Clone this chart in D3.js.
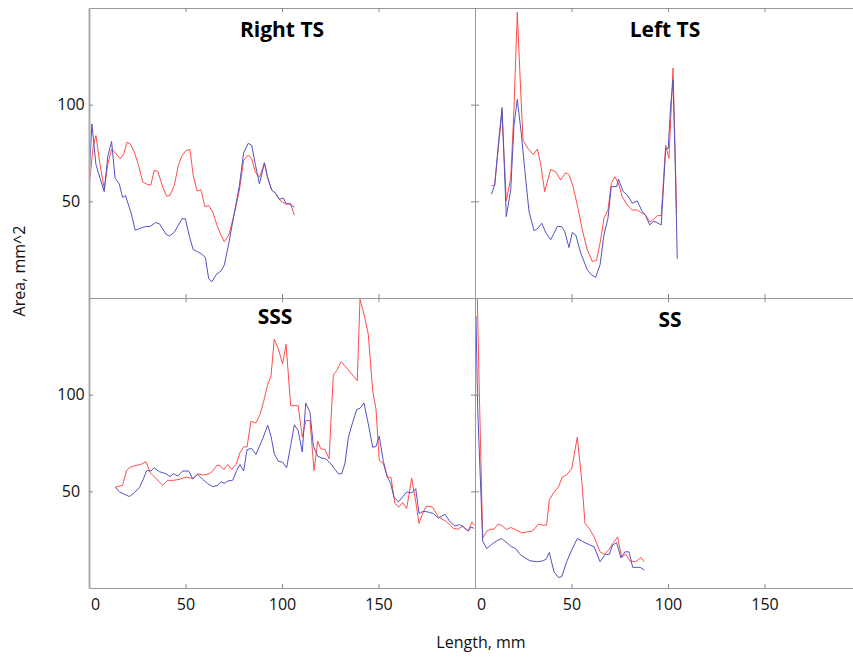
<!DOCTYPE html>
<html>
<head>
<meta charset="utf-8">
<script src="https://cdn.jsdelivr.net/npm/d3@7"></script>
<style>
  body { margin: 0; background: #fff; }
  svg { display: block; font-family: "Open Sans", sans-serif; }
</style>
</head>
<body>
<div id="chart"></div>
<script>
// panel titles
const titles = ["Right TS", "Left TS", "SSS", "SS"];
const xTicks = [0, 50, 100, 150];
const yTicks = [50, 100];

// [length mm, area mm^2]
const rightTsRed = [[0,57],[2.1,78],[3.6,84],[5.7,69],[7.9,56.5],[9.7,69],[11.7,77],[14,74.6],[16.2,72],[18,74.6],[19.7,80.6],[21.4,79.7],[23.5,75.4],[25.7,68.6],[27.8,60],[30.4,58.6],[32.1,58.6],[33.8,66],[35.6,65.6],[38.2,57.4],[40.2,52.7],[41.9,53],[44.2,58.2],[46.3,68.6],[48.2,73.7],[50.3,76.3],[52.3,76.8],[54,63.4],[56,55.3],[58,56],[60.1,47.1],[62,47.9],[64.1,44.5],[66.3,37.6],[68.4,32.5],[70.1,29],[72.4,32.5],[75.3,43.6],[77.9,55.7],[80.1,71.1],[82.5,74],[84.3,72],[86.2,65.1],[88.3,62.5],[90.9,69.7],[92.5,62.5],[94.6,56],[96.9,53.7],[99,50.5],[102,48.5],[104.3,49],[106.4,42.8]];
const rightTsBlue = [[0,62],[1.5,90],[3.6,69],[5.7,62],[7.9,55],[9.7,73],[11.7,81],[13.5,62],[15.7,59],[17.4,52],[18.9,53],[21.8,44],[24,35],[26.4,36],[29.2,37],[31.6,37],[34.4,39],[36.4,38.5],[39.9,33],[41.6,32],[44.2,34],[48.2,41],[49.9,41],[52,32],[54,25],[56.1,24],[58,23],[60.3,21],[62,10],[63.7,8.4],[65.8,12],[68.4,14],[70.1,17],[72.4,28],[75.3,44],[77.9,58],[80.1,75],[82.5,80],[84.3,79],[86.2,69],[88.3,59],[90.9,70],[92.5,62.5],[94.6,56],[96.9,54],[98.6,51],[100.7,51.7],[102,49],[104.1,48.5],[106.4,47]];

const leftTsRed = [[8.5,58],[10.2,58.4],[12.4,80.8],[14,96.2],[16.2,50.2],[18.5,61.9],[20.2,97.9],[21.9,147.8],[23.7,106.5],[24.9,81.6],[27.5,77.3],[30.2,74.2],[32.3,77],[34,69.6],[36.1,55],[39.2,66.5],[41.8,65.3],[44.4,61],[47,64.8],[48.7,63.9],[50.8,57.6],[53.4,46.4],[55.6,35.2],[58.2,24.9],[60.8,18.9],[62.9,19.4],[64.8,28.4],[66.8,41.2],[68.9,45.5],[70.6,59.3],[72.5,62.7],[74.3,59.3],[76.3,52.4],[78.9,48.1],[81.5,45.5],[84.1,45.5],[85.9,44.3],[88.4,42.9],[90.7,39.2],[92.7,40.9],[94.5,42.6],[96.5,42.6],[98.8,79],[100.5,72.2],[102.6,118.9],[103.5,82.5],[104.5,43.8]];
const leftTsBlue = [[8.5,53.6],[10.2,58.4],[12.4,82.5],[14,98.5],[16.2,42.1],[18.5,55.8],[20.2,89.3],[21.9,102.7],[24,85],[25.7,67],[28,44.7],[30.6,34.7],[32.6,36.1],[34.6,38.7],[36.6,34],[39.2,30.1],[42.7,37],[44.8,37],[46.5,34.4],[48.7,26.1],[50.4,33.9],[52.2,32.6],[54.8,23.2],[58.2,14.6],[60.3,12],[62.5,10.7],[64.8,17.2],[66.8,32.6],[68.9,41.2],[70.6,57.6],[73.4,57.6],[74.3,61.5],[76.8,55],[78.9,53.3],[81.5,49],[84.1,50.2],[86.4,45.2],[88.4,42.6],[90.5,37.8],[92.7,39.8],[96.5,37.8],[98.8,77.3],[100.1,77.3],[101.4,99.6],[102.6,112.9],[103.6,75.6],[104.8,20.3]];

const sssRed = [[13.6,52.2],[17.4,53.1],[19.5,60.8],[21.8,62.7],[24.4,63.4],[26.9,63.9],[29.5,65.3],[31.8,59.6],[34.7,56.7],[38.2,53.1],[40.8,55.7],[43.7,55.7],[46.8,56.2],[50.3,57.4],[54,56.5],[56.3,59.1],[59.2,58.4],[62.3,59.1],[64.1,60.5],[66.2,63.4],[67.9,63.4],[69.8,61.3],[71.9,63.9],[73.9,61.3],[76.2,63.9],[78.2,69.9],[80.1,73],[81.9,73],[83.9,86.2],[86.5,85.4],[88.6,89.7],[90.5,96.5],[92.6,105.2],[94.3,109.5],[96,128.7],[98.1,123.6],[100.3,115.8],[102.1,126.1],[104.5,94.3],[108.4,94.3],[110.5,78],[112.4,86.6],[114.5,86.6],[116.6,60.8],[118.5,75.9],[120.1,72],[122.3,71.6],[124.4,66.8],[126.6,110.2],[128.3,112.4],[130.6,117],[132.6,114.9],[139,107.2],[140.4,149.3],[142.5,141.6],[144.7,131.3],[147,102.1],[148.7,92.6],[150.4,66],[152.5,64.3],[154.6,57.4],[156.5,57.1],[158.5,43.7],[160.6,41.9],[162.5,44.2],[164.6,41.1],[167.2,56.9],[169.3,44.5],[171,33.4],[173.2,39.3],[175,42.4],[177.9,41.9],[181,36.8],[185.3,34.2],[188.8,30.8],[191.3,30.4],[193.6,32.1],[196.5,29.5],[198.4,34.2],[199.5,32.5]];
const sssBlue = [[13.6,52.2],[15.7,49.7],[18.3,48.5],[20.9,47.3],[23.5,49.3],[26.1,51.9],[28.1,56.2],[29.9,60.8],[32.1,60.5],[33.8,62.2],[36.4,60.2],[39.9,59.1],[42,57.6],[43.7,59.1],[46,57.9],[48.5,60.5],[51.7,60.5],[53.7,56.5],[56.3,58.8],[58.9,56.2],[61.5,54],[64.1,52.4],[66.7,53.1],[68.4,55],[70.1,54.1],[71.9,55.3],[74.5,55.8],[76.5,60.8],[78.2,63.9],[80.1,60.5],[81.9,71.6],[84.3,72.2],[86.5,69.1],[90,77.2],[92.6,84.2],[94.3,78.5],[96,69.4],[98.1,65.6],[100.3,65.1],[102.4,62.2],[104.5,73.7],[106.4,84.4],[108.4,81.4],[110.5,70.3],[112.3,95.7],[114.5,90.9],[116.2,73.7],[118.5,68.2],[120.6,67.2],[122.6,66.8],[124.9,64.8],[127.5,61.3],[129.2,59.1],[130.9,59.1],[132.6,64.3],[134.4,78],[136.6,85.7],[138.7,92.3],[140.4,92.9],[142.5,95.7],[144.7,84.9],[147,72.8],[148.7,73.2],[150.4,78.5],[152.5,65.6],[154.6,57.4],[156.3,54],[158,47.1],[160.3,44.5],[162.5,47.1],[164.6,49.7],[167.2,49.1],[169.3,51.4],[171,38.5],[173.2,39.7],[175.8,39.3],[178.4,38.5],[181,36.2],[184.5,38.1],[187,34.2],[189.6,32.1],[191.9,32.8],[193.9,31.6],[196.5,29.4],[197.9,31.6],[199.5,30.8]];

const ssRed = [[1.2,150],[2.2,103],[4,25.9],[6.1,29.4],[8.1,30.4],[9.8,30.4],[12.1,33.1],[14.1,32.1],[16.4,30.2],[18.5,31.3],[20.7,30.4],[24.2,28.5],[26.8,29],[29.4,29.4],[31.1,30.8],[32.8,33.1],[35.1,32.5],[37.1,32.5],[38.5,45.4],[40.6,49.1],[43.2,52.2],[45.2,57.4],[47.5,58.6],[50.1,61.7],[53,78],[55.3,55.7],[57,33.4],[59.2,30.8],[61.7,26.5],[64.8,18.7],[67,17.5],[69.6,20.1],[71.7,23.5],[73.9,26.4],[76,15.8],[78.1,17.5],[80.3,13.9],[83.3,13.6],[86,15.8],[87.6,13.6]];
const ssBlue = [[0.5,140.7],[1.4,92.6],[4,24.2],[6.1,20.4],[8.6,22.5],[11.2,24.4],[13.8,25.6],[16.4,23.5],[19,21.3],[21.1,20.4],[23.3,17.4],[25.9,15.6],[28.5,14.1],[32,13.6],[34.6,13.9],[36.8,14.8],[38.5,18.4],[40.9,8.4],[43.2,5.5],[44.9,5.8],[47.5,13.6],[50.1,19.6],[53,25.6],[57,23.4],[61.7,21.3],[64.8,13.6],[67.4,17.4],[69.6,17.4],[71.3,22.2],[73.4,23.5],[75.6,15.6],[77.7,18.7],[79.8,18.7],[81.7,10.7],[85.5,10.7],[87.7,9.3]];

const seriesRed = [rightTsRed, leftTsRed, sssRed, ssRed];
const seriesBlue = [rightTsBlue, leftTsBlue, sssBlue, ssBlue];

const W = 853, H = 657;
const pw = 386, ph = 290;
const panels = [
  { left: 89, top: 8, col: 0, row: 0, tdx: 0, tdy: 29 },
  { left: 475, top: 8, col: 1, row: 0, tdx: -3, tdy: 29 },
  { left: 89, top: 298, col: 0, row: 1, tdx: -7, tdy: 26 },
  { left: 475, top: 298, col: 1, row: 1, tdx: 2, tdy: 29 },
];

const svg = d3.select("#chart").append("svg")
  .attr("width", W).attr("height", H);

const x = d3.scaleLinear().domain([0, 200]).range([0, pw]);
const y = d3.scaleLinear().domain([0, 150]).range([ph, 0]);
const line = d3.line().x(d => x(d[0])).y(d => y(d[1]));

const defs = svg.append("defs");
defs.append("clipPath").attr("id", "clip")
  .append("rect").attr("width", pw).attr("height", ph);

panels.forEach((p, i) => {
  const g = svg.append("g").attr("transform", `translate(${p.left},${p.top})`);

  // data
  const plot = g.append("g").attr("clip-path", "url(#clip)");
  plot.append("path").datum(seriesRed[i])
    .attr("fill", "none").attr("stroke", "#ff4d4d").attr("stroke-width", 1)
    .attr("d", line);
  plot.append("path").datum(seriesBlue[i])
    .attr("fill", "none").attr("stroke", "#5252c4").attr("stroke-width", 1)
    .attr("d", line);

  // axes, ticks pointing inwards
  const bottom = g.append("g").attr("transform", `translate(0,${ph})`)
    .call(d3.axisBottom(x).tickValues(xTicks).tickSizeInner(-4).tickSizeOuter(0).tickPadding(11)
      .tickFormat(p.row === 1 ? d3.format("d") : () => ""));
  const top = g.append("g")
    .call(d3.axisTop(x).tickValues(xTicks).tickSizeInner(-4).tickSizeOuter(0).tickFormat(() => ""));
  const left = g.append("g")
    .call(d3.axisLeft(y).tickValues(yTicks).tickSizeInner(-4).tickSizeOuter(0)
      .tickFormat(p.col === 0 ? d3.format("d") : () => ""));
  const right = g.append("g").attr("transform", `translate(${pw},0)`)
    .call(d3.axisRight(y).tickValues(yTicks).tickSizeInner(-4).tickSizeOuter(0).tickFormat(() => ""));

  [bottom, top, left, right].forEach(a => {
    a.select(".domain").attr("stroke", "#999").attr("stroke-width", 1);
    a.selectAll(".tick line").attr("stroke", "#888");
    a.selectAll(".tick text").attr("fill", "#111").style("font-size", "16px")
      .style("font-family", "'Open Sans', sans-serif");
  });
  if (p.col === 0) left.select(".domain").attr("stroke", "#aaa").attr("stroke-width", 2);
  left.selectAll(".tick text").attr("text-anchor", "middle").attr("x", -18);
  bottom.selectAll(".tick text").filter(d => d === 0).attr("dx", 6);

  g.append("text")
    .attr("x", pw / 2 + p.tdx).attr("y", p.tdy)
    .attr("text-anchor", "middle")
    .style("font-size", "21px").style("font-weight", "bold").attr("fill", "#000")
    .text(titles[i]);
});

svg.append("text")
  .attr("x", 481).attr("y", 648).attr("text-anchor", "middle")
  .style("font-size", "16px").attr("fill", "#111")
  .text("Length, mm");

svg.append("text")
  .attr("transform", "translate(25,271) rotate(-90)").attr("text-anchor", "middle")
  .style("font-size", "16px").attr("fill", "#111")
  .text("Area, mm^2");
</script>
</body>
</html>
